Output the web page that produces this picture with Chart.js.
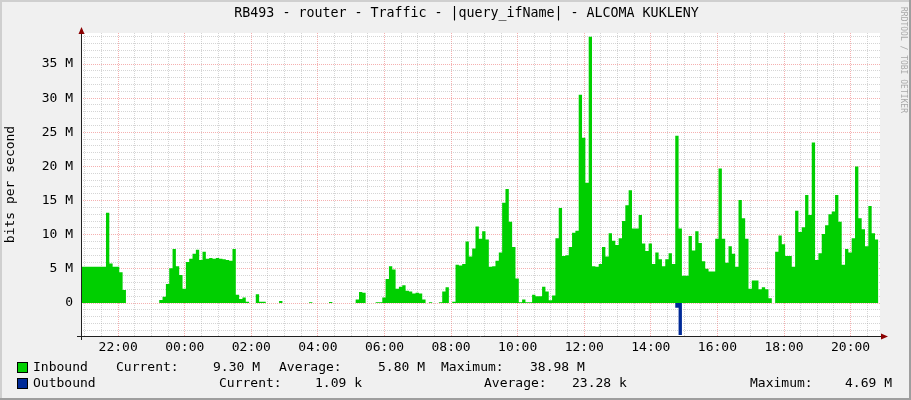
<!DOCTYPE html>
<html>
<head>
<meta charset="utf-8">
<script src="https://cdn.jsdelivr.net/npm/chart.js@4.4.1/dist/chart.umd.min.js"></script>
<style>
  html, body { margin: 0; padding: 0; background: #f0f0f0; }
  canvas { display: block; }
</style>
</head>
<body>
<canvas id="traffic-chart" width="911" height="400"></canvas>
<script>
// RRD samples: 6 minute step, first sample at 20:50 (70 min before 22:00)
const firstSampleOffset = -70;
const stepMinutes = 6;

// Mbit/s
const inbound = [
  5.3, 5.3, 5.3, 5.3, 5.3, 5.3, 5.3, 5.3, 13.2, 5.8,
  5.3, 5.3, 4.5, 1.9, 0, 0, 0, 0, 0, 0,
  0, 0, 0, 0, 0.45, 0.9, 2.8, 5.1, 7.9, 5.4,
  4.1, 2.1, 6.0, 6.5, 7.2, 7.8, 6.3, 7.5, 6.5, 6.6,
  6.5, 6.6, 6.5, 6.4, 6.3, 6.2, 7.9, 1.2, 0.6, 0.8,
  0.2, 0, 0, 1.3, 0.2, 0.2, 0, 0, 0, 0,
  0.3, 0, 0, 0, 0, 0, 0, 0, 0, 0.1,
  0, 0, 0, 0, 0, 0.15, 0, 0, 0, 0,
  0, 0, 0, 0.5, 1.6, 1.5, 0, 0, 0, 0.1,
  0.1, 0.8, 3.5, 5.4, 4.9, 2.1, 2.4, 2.6, 1.8, 1.7,
  1.4, 1.5, 1.4, 0.5, 0, 0.1, 0, 0, 0.1, 1.7,
  2.3, 0, 0.2, 5.6, 5.5, 5.7, 9.0, 6.8, 8.0, 11.2,
  9.4, 10.5, 9.3, 5.3, 5.4, 6.2, 7.4, 14.7, 16.7, 11.9,
  8.2, 3.6, 0.1, 0.5, 0.1, 0.1, 1.2, 1.0, 1.0, 2.4,
  1.7, 0.4, 1.1, 9.5, 13.9, 6.9, 7.0, 8.2, 10.3, 10.6,
  30.5, 24.2, 17.6, 38.98, 5.4, 5.3, 5.7, 8.2, 6.8, 10.2,
  9.1, 8.5, 9.5, 12.0, 14.3, 16.5, 10.9, 10.9, 12.9, 8.7,
  7.6, 8.7, 5.7, 7.4, 6.4, 5.4, 6.4, 7.3, 5.7, 24.5,
  10.9, 4.0, 4.0, 9.8, 7.7, 10.5, 8.8, 6.1, 5.0, 4.6,
  4.6, 9.4, 19.7, 9.4, 5.9, 8.3, 7.2, 5.3, 15.1, 12.4,
  9.4, 2.1, 3.3, 3.3, 2.0, 2.3, 2.0, 0.7, 0, 7.5,
  9.9, 8.6, 6.9, 6.9, 5.3, 13.5, 10.4, 11.1, 15.8, 12.9,
  23.5, 6.3, 7.3, 10.1, 11.4, 13.0, 13.4, 15.8, 11.9, 5.6,
  7.9, 7.4, 9.5, 20.0, 12.4, 10.8, 8.3, 14.2, 10.2, 9.3,
  9.3
];

// Mbit/s, drawn below zero
const outbound = [
  0.001, 0.001, 0.002, 0.001, 0.001, 0.001, 0.002, 0.001, 0.001, 0.001,
  0.001, 0.001, 0.001, 0.001, 0.001, 0.001, 0.001, 0.001, 0.001, 0.001,
  0.001, 0.001, 0.001, 0.001, 0.001, 0.001, 0.001, 0.002, 0.002, 0.001,
  0.001, 0.001, 0.001, 0.002, 0.001, 0.001, 0.001, 0.001, 0.001, 0.001,
  0.001, 0.001, 0.001, 0.001, 0.001, 0.001, 0.002, 0.001, 0.001, 0.001,
  0.001, 0.001, 0.001, 0.001, 0.001, 0.001, 0.001, 0.001, 0.001, 0.001,
  0.001, 0.001, 0.001, 0.001, 0.001, 0.001, 0.001, 0.001, 0.001, 0.001,
  0.001, 0.001, 0.001, 0.001, 0.001, 0.001, 0.001, 0.001, 0.001, 0.001,
  0.001, 0.001, 0.001, 0.001, 0.001, 0.001, 0.001, 0.001, 0.001, 0.001,
  0.001, 0.001, 0.001, 0.001, 0.001, 0.001, 0.001, 0.001, 0.001, 0.001,
  0.001, 0.001, 0.001, 0.001, 0.001, 0.001, 0.001, 0.001, 0.001, 0.001,
  0.001, 0.001, 0.001, 0.001, 0.002, 0.001, 0.002, 0.001, 0.001, 0.002,
  0.001, 0.002, 0.001, 0.001, 0.001, 0.001, 0.001, 0.002, 0.002, 0.001,
  0.001, 0.001, 0.001, 0.001, 0.001, 0.001, 0.001, 0.001, 0.001, 0.001,
  0.001, 0.001, 0.001, 0.001, 0.002, 0.001, 0.001, 0.001, 0.001, 0.001,
  0.002, 0.002, 0.001, 0.002, 0.001, 0.001, 0.001, 0.001, 0.001, 0.001,
  0.001, 0.001, 0.001, 0.001, 0.001, 0.002, 0.001, 0.001, 0.001, 0.001,
  0.001, 0.001, 0.001, 0.001, 0.001, 0.001, 0.001, 0.001, 0.001, 0.7,
  4.69, 0.001, 0.001, 0.001, 0.001, 0.001, 0.001, 0.001, 0.001, 0.001,
  0.001, 0.001, 0.002, 0.001, 0.001, 0.001, 0.001, 0.001, 0.001, 0.001,
  0.001, 0.001, 0.001, 0.001, 0.001, 0.001, 0.001, 0.001, 0.001, 0.001,
  0.001, 0.001, 0.001, 0.001, 0.001, 0.001, 0.001, 0.001, 0.002, 0.001,
  0.002, 0.001, 0.001, 0.001, 0.001, 0.001, 0.001, 0.002, 0.001, 0.001,
  0.001, 0.001, 0.001, 0.002, 0.001, 0.001, 0.001, 0.001, 0.001, 0.001,
  0.00109
];

const seriesNames = ['Inbound', 'Outbound'];
const currentValues = ['9.30 M', '1.09 k'];
const averageValues = ['5.80 M', '23.28 k'];
const maximumValues = ['38.98 M', '4.69 M'];

const titleText = 'RB493 - router - Traffic - |query_ifName| - ALCOMA KUKLENY';
const yAxisTitle = 'bits per second';
const yTickLabels = ['0', '5 M', '10 M', '15 M', '20 M', '25 M', '30 M', '35 M'];

const inboundColor = '#00CF00';
const outboundColor = '#002A97';
const mono = "'DejaVu Sans Mono', monospace";

const sampleMinutes = inbound.map((v, i) => firstSampleOffset + i * stepMinutes);

function clockLabel(min) {
  const m = ((22 * 60 + min) % 1440 + 1440) % 1440;
  const h = Math.floor(m / 60);
  return String(h).padStart(2, '0') + ':' + String(m % 60).padStart(2, '0');
}

const rrdFrame = {
  id: 'rrdFrame',
  beforeDraw(chart) {
    const { ctx, chartArea: a } = chart;
    ctx.save();
    ctx.fillStyle = '#F0F0F0';
    ctx.fillRect(0, 0, chart.width, chart.height);
    ctx.fillStyle = '#CFCFCF';
    ctx.fillRect(0, 0, chart.width, 2);
    ctx.fillRect(0, 0, 2, chart.height);
    ctx.fillStyle = '#9E9E9E';
    ctx.fillRect(chart.width - 2, 0, 2, chart.height);
    ctx.fillRect(0, chart.height - 2, chart.width, 2);
    ctx.fillStyle = '#FFFFFF';
    ctx.fillRect(a.left, a.top, a.right - a.left, a.bottom - a.top);
    ctx.restore();
  },
  afterDraw(chart) {
    const { ctx, chartArea: a } = chart;
    ctx.save();
    // axes
    ctx.strokeStyle = '#202020';
    ctx.lineWidth = 1;
    ctx.beginPath();
    ctx.moveTo(a.left - 4, a.bottom + 0.5);
    ctx.lineTo(a.right + 4, a.bottom + 0.5);
    ctx.moveTo(a.left + 0.5, a.bottom + 4);
    ctx.lineTo(a.left + 0.5, a.top - 3);
    ctx.stroke();
    // arrows
    ctx.fillStyle = '#8B0000';
    ctx.beginPath();
    ctx.moveTo(a.left + 0.5, a.top - 6);
    ctx.lineTo(a.left - 2.5, a.top + 1);
    ctx.lineTo(a.left + 3.5, a.top + 1);
    ctx.closePath();
    ctx.fill();
    ctx.beginPath();
    ctx.moveTo(a.right + 8, a.bottom + 0.5);
    ctx.lineTo(a.right + 1, a.bottom - 2.5);
    ctx.lineTo(a.right + 1, a.bottom + 3.5);
    ctx.closePath();
    ctx.fill();

    // title
    ctx.fillStyle = '#000000';
    ctx.font = '13.3px ' + mono;
    ctx.textAlign = 'center';
    ctx.textBaseline = 'middle';
    ctx.fillText(titleText, 466.5, 14);

    // legend
    ctx.font = '13px ' + mono;
    ctx.textAlign = 'left';
    const rows = [
      { y: 368, color: inboundColor, cols: [116, 213, 279, 378, 441, 530] },
      { y: 384, color: outboundColor, cols: [219, 315, 484, 572, 750, 845] }
    ];
    rows.forEach((r, i) => {
      ctx.fillStyle = r.color;
      ctx.fillRect(17.5, r.y - 5.5, 10, 10);
      ctx.strokeStyle = '#000000';
      ctx.strokeRect(17.5, r.y - 5.5, 10, 10);
      ctx.fillStyle = '#000000';
      ctx.fillText(seriesNames[i], 33, r.y);
      ctx.fillText('Current:', r.cols[0], r.y);
      ctx.fillText(currentValues[i], r.cols[1], r.y);
      ctx.fillText('Average:', r.cols[2], r.y);
      ctx.fillText(averageValues[i], r.cols[3], r.y);
      ctx.fillText('Maximum:', r.cols[4], r.y);
      ctx.fillText(maximumValues[i], r.cols[5], r.y);
    });

    // watermark
    ctx.translate(903, 7);
    ctx.rotate(Math.PI / 2);
    ctx.font = '8px ' + mono;
    ctx.fillStyle = '#A8A8A8';
    ctx.textBaseline = 'middle';
    ctx.fillText('RRDTOOL / TOBI OETIKER', 0, 0);
    ctx.restore();
  }
};

new Chart(document.getElementById('traffic-chart'), {
  type: 'line',
  data: {
    datasets: [
      {
        label: seriesNames[0],
        data: inbound.map((v, i) => ({ x: sampleMinutes[i], y: v })),
        stepped: true,
        fill: 'origin',
        backgroundColor: inboundColor,
        borderWidth: 0,
        pointRadius: 0
      },
      {
        label: seriesNames[1],
        data: outbound.map((v, i) => ({ x: sampleMinutes[i], y: -v })),
        stepped: true,
        fill: 'origin',
        backgroundColor: outboundColor,
        borderWidth: 0,
        pointRadius: 0
      }
    ]
  },
  options: {
    responsive: false,
    animation: false,
    devicePixelRatio: 1,
    layout: { padding: { left: 0, top: 33, right: 31, bottom: 0 } },
    plugins: { legend: { display: false }, title: { display: false }, tooltip: { enabled: false } },
    scales: {
      x: {
        type: 'linear',
        min: -67,
        max: 1373,
        afterBuildTicks(scale) {
          const ticks = [];
          for (let t = -60; t <= 1370; t += 30) ticks.push({ value: t });
          scale.ticks = ticks;
        },
        afterFit(scale) { scale.height = 64; },
        ticks: {
          autoSkip: false,
          maxRotation: 0,
          padding: 4,
          color: '#000000',
          font: { family: mono, size: 13 },
          callback: (v) => (v % 120 === 0 ? clockLabel(v) : '')
        },
        grid: {
          drawTicks: false,
          color: (ctx) => (ctx.tick && ctx.tick.value % 120 === 0 ? 'rgba(232,80,80,0.45)' : 'rgba(150,150,150,0.4)')
        },
        border: { display: false, dash: [1, 1] }
      },
      y: {
        type: 'linear',
        min: -4.83,
        max: 39.54,
        afterBuildTicks(scale) {
          const ticks = [];
          for (let v = -4; v <= 39; v++) ticks.push({ value: v });
          scale.ticks = ticks;
        },
        afterFit(scale) { scale.width = 81; },
        ticks: {
          autoSkip: false,
          padding: 8,
          color: '#000000',
          font: { family: mono, size: 13 },
          callback: (v) => (v >= 0 && v % 5 === 0 ? yTickLabels[v / 5] : '')
        },
        grid: {
          drawTicks: false,
          color: (ctx) => (ctx.tick && ctx.tick.value % 5 === 0 ? 'rgba(232,80,80,0.45)' : 'rgba(150,150,150,0.4)')
        },
        border: { display: false, dash: [1, 1] },
        title: {
          display: true,
          text: yAxisTitle,
          color: '#000000',
          font: { family: mono, size: 13 },
          padding: { top: 3, bottom: 0 }
        }
      }
    }
  },
  plugins: [rrdFrame]
});
</script>
</body>
</html>
